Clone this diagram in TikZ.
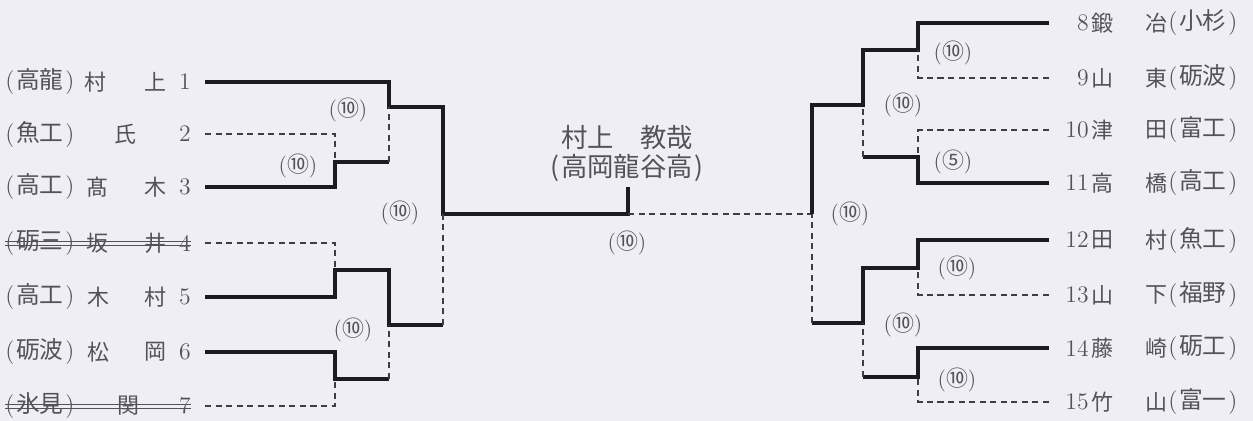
\documentclass[tikz,border=0pt]{standalone}
\usepackage{fontspec}
\newfontfamily\cjk{Noto Sans CJK JP}
\usetikzlibrary{positioning}
\definecolor{paper}{RGB}{240,238,245}
\definecolor{ink}{RGB}{28,28,32}
\definecolor{txt}{RGB}{82,82,88}
\tikzset{
	winline/.style={line width=2.2pt,draw=ink,line join=miter},
	loseline/.style={line width=0.7pt,draw=ink!85,dash pattern=on 3.5pt off 2.5pt},
	nm/.style={inner sep=0pt,text=txt,font=\cjk\fontsize{12.5}{14}\selectfont},
	num/.style={inner sep=0pt,text=txt,font=\fontsize{13.5}{15}\selectfont},
	score/.style={inner sep=0pt,text=txt,font=\fontsize{12.5}{14}\selectfont},
	champ/.style={inner sep=0pt,text=txt,font=\cjk\fontsize{15}{17}\selectfont}
}
\newcommand{\schl}[1]{(\kern1pt{\cjk #1}\kern1pt)}
\begin{document}
\begin{tikzpicture}[x=0.02cm,y=-0.02cm]
	\useasboundingbox[fill=paper] (0,0) rectangle (1253,421);
	\foreach \n/\y/\sch/\fa/\xa/\fb in {1/82/高龍/村/95/上,2/134/魚工/氏/125/{},3/187/高工/髙/97/木,4/243/砺三/坂/97/井,5/297/高工/木/98/村,6/352/砺波/松/98/岡,7/406/氷見/関/128/{}}{
		\node[num,anchor=west] (ls\n) at (5,\y) {\schl{\sch}};
		\node[nm] (lf\n) at (\xa,\y) {\fa};
		\node[nm] (lg\n) at (155,\y) {\fb};
		\node[num,anchor=east] (ln\n) at (191,\y) {\n};
		\coordinate (la\n) at (205,\y);
	}
	\foreach \n in {4,7}
		\draw[txt,line width=0.6pt] ([yshift=0.6pt]ls\n.west) -- ([yshift=0.6pt]ln\n.east)
			([yshift=-1.2pt]ls\n.west) -- ([yshift=-1.2pt]ln\n.east);
	\foreach \n/\y/\fa/\fb/\sch in {8/23/鍛/冶/小杉,9/78/山/東/砺波,10/130/津/田/富工,11/183/高/橋/高工,12/240/田/村/魚工,13/295/山/下/福野,14/348/藤/崎/砺工,15/402/竹/山/富一}{
		\node[num,anchor=east] (rn\n) at (1089,\y) {\n};
		\node[nm] (rf\n) at (1102,\y) {\fa};
		\node[nm] (rg\n) at (1156,\y) {\fb};
		\node[num,anchor=west] (rs\n) at (1168,\y) {\schl{\sch}};
		\coordinate (ra\n) at (1049,\y);
	}
	\coordinate (q23) at (335,162);
	\coordinate (q45) at (335,270);
	\coordinate (q67) at (335,379);
	\coordinate (r1) at (389,107);
	\coordinate (r2) at (389,325);
	\coordinate (sf) at (443,214);
	\coordinate (fin) at (628,214);
	\coordinate (p89) at (918,50);
	\coordinate (p1011) at (918,157);
	\coordinate (p1213) at (918,268);
	\coordinate (p1415) at (918,377);
	\coordinate (u1) at (863,105);
	\coordinate (u2) at (863,323);
	\coordinate (rf) at (812,214);
	\node[champ] (cn) at (627,138) {村上\quad 教哉};
	\node[champ] (cs) at (627,168) {(\kern1pt 高岡龍谷高\kern1pt)};
	\coordinate[below=3pt of cs.south] (ct);
	\draw[winline] (la1) -| (r1) -| (sf) -- (fin) -- (fin |- ct);
	\draw[loseline] (la2) -| (q23);
	\draw[winline] (la3) -| (q23) -- (q23 -| r1);
	\draw[loseline] (q23 -| r1) -- (r1);
	\draw[loseline] (la4) -| (q45);
	\draw[winline] (la5) -| (q45) -| (r2) -- (r2 -| sf);
	\draw[loseline] (r2 -| sf) -- (sf);
	\draw[winline] (la6) -| (q67) -- (q67 -| r2);
	\draw[loseline] (q67 -| r2) -- (r2);
	\draw[loseline] (la7) -| (q67);
	\draw[loseline] (fin) -- (rf);
	\draw[winline] (ra8) -| (p89) -| (u1) -| (rf);
	\draw[loseline] (ra9) -| (p89);
	\draw[loseline] (ra10) -| (p1011);
	\draw[winline] (ra11) -| (p1011) -- (p1011 -| u1);
	\draw[loseline] (p1011 -| u1) -- (u1);
	\draw[winline] (ra12) -| (p1213) -| (u2) -- (u2 -| rf);
	\draw[loseline] (u2 -| rf) -- (rf);
	\draw[loseline] (ra13) -| (p1213);
	\draw[winline] (ra14) -| (p1415) -- (p1415 -| u2);
	\draw[loseline] (p1415 -| u2) -- (u2);
	\draw[loseline] (ra15) -| (p1415);
	\foreach \x/\y/\s [count=\k] in {348/110/⑩,298/166/⑩,400/213/⑩,353/330/⑩,627/243/⑩,953/53/⑩,903/105/⑩,953/162/⑤,850/214/⑩,957/268/⑩,903/325/⑩,957/380/⑩}
		\node[score] (g\k) at (\x,\y) {({\cjk\s})};
\end{tikzpicture}
\end{document}
